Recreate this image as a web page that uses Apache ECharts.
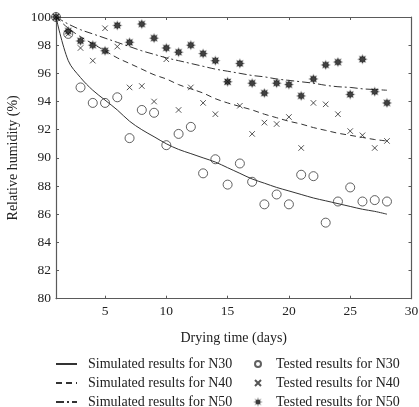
<!DOCTYPE html>
<html>
<head>
<meta charset="utf-8">
<script src="https://cdn.jsdelivr.net/npm/echarts@6/dist/echarts.min.js"></script>
<style>
  html, body { margin: 0; padding: 0; background: #fff; }
  #chart { width: 419px; height: 407px; }
</style>
</head>
<body>
<div id="chart"></div>
<script>
// Drying days
const days = [1, 2, 3, 4, 5, 6, 7, 8, 9, 10, 11, 12, 13, 14, 15, 16, 17, 18, 19, 20, 21, 22, 23, 24, 25, 26, 27, 28];
const xTickValues = [5, 10, 15, 20, 25, 30];

// Simulated relative humidity (%)
const simN30 = [100, 96.9, 95.7, 94.8, 94.1, 93.4, 92.6, 92.0, 91.5, 91.0, 90.6, 90.3, 90.0, 89.7, 89.3, 88.9, 88.5, 88.2, 87.9, 87.65, 87.4, 87.15, 86.95, 86.75, 86.55, 86.35, 86.2, 86.0];
const simN40 = [100, 99.2, 98.6, 98.1, 97.6, 97.1, 96.7, 96.3, 95.9, 95.6, 95.2, 94.9, 94.6, 94.2, 93.9, 93.65, 93.4, 93.1, 92.85, 92.6, 92.4, 92.15, 91.95, 91.75, 91.6, 91.45, 91.3, 91.2];
const simN50 = [100, 99.5, 99.1, 98.8, 98.5, 98.2, 97.9, 97.6, 97.35, 97.1, 96.9, 96.7, 96.5, 96.3, 96.15, 96.0, 95.85, 95.75, 95.6, 95.5, 95.4, 95.3, 95.15, 95.05, 95.0, 94.9, 94.85, 94.8];

// Tested relative humidity (%)
const testN30 = [100, 98.8, 95.0, 93.9, 93.9, 94.3, 91.4, 93.4, 93.2, 90.9, 91.7, 92.2, 88.9, 89.9, 88.1, 89.6, 88.3, 86.7, 87.4, 86.7, 88.8, 88.7, 85.4, 86.9, 87.9, 86.9, 87.0, 86.9];
const testN40 = [100, 98.8, 97.8, 96.9, 99.2, 97.9, 95.0, 95.1, 94.0, 97.0, 93.4, 95.0, 93.9, 93.1, 95.4, 93.7, 91.7, 92.5, 92.4, 92.9, 90.7, 93.9, 93.8, 93.1, 91.9, 91.6, 90.7, 91.2];
const testN50 = [100, 99.0, 98.3, 98.0, 97.6, 99.4, 98.2, 99.5, 98.5, 97.8, 97.5, 98.0, 97.4, 96.9, 95.4, 96.7, 95.3, 94.6, 95.3, 95.2, 94.4, 95.6, 96.6, 96.8, 94.5, 97.0, 94.7, 93.9];

const simNames = ['Simulated results for N30', 'Simulated results for N40', 'Simulated results for N50'];
const testNames = ['Tested results for N30', 'Tested results for N40', 'Tested results for N50'];

const FONT = '"Liberation Serif", "DejaVu Serif", serif';
const INK = '#222';
const AXIS = '#5a5a5a';
const LINE = '#333';

// eight-spoked star marker
function starPath(points, rOut, rIn) {
  let d = '';
  for (let k = 0; k < points * 2; k++) {
    const r = k % 2 === 0 ? rOut : rIn;
    const a = Math.PI * k / points - Math.PI / 2;
    const x = (10 + r * Math.cos(a)).toFixed(2);
    const y = (10 + r * Math.sin(a)).toFixed(2);
    d += (k === 0 ? 'M' : 'L') + x + ',' + y;
  }
  return 'path://' + d + 'Z';
}
const crossPath = 'path://M0,0L10,10M10,0L0,10';

const pairs = (vals) => days.map((d, i) => [d, vals[i]]);

function simSeries(name, vals, type) {
  return {
    name, type: 'line', data: pairs(vals), symbol: 'none', smooth: 0.35,
    color: LINE,
    lineStyle: { color: LINE, width: 1, type },
    itemStyle: { color: LINE },
    z: 2, silent: true
  };
}

// one legend entry per row/column slot
const legendText = { fontFamily: FONT, fontSize: 14, color: INK, lineHeight: 16 };
const rowTops = [351, 370, 389];
const legends = [];
simNames.forEach((n, i) => legends.push({
  data: [n], left: 50, top: rowTops[i], itemWidth: 21, itemHeight: 10,
  itemStyle: { opacity: 0 },
  textStyle: Object.assign({ padding: [0, 0, 0, 6] }, legendText),
  selectedMode: false
}));
testNames.forEach((n, i) => legends.push({
  data: [n], left: 249, top: rowTops[i], itemWidth: 6, itemHeight: 6,
  textStyle: Object.assign({ padding: [0, 0, 0, 10] }, legendText),
  selectedMode: false
}));

const chart = echarts.init(document.getElementById('chart'), null, { renderer: 'canvas' });

const baseAxis = {
  axisLine: { show: true, onZero: false, lineStyle: { color: AXIS, width: 1.2 } },
  axisTick: { show: true, inside: true, length: 3, lineStyle: { color: AXIS } },
  splitLine: { show: false }
};

chart.setOption({
  animation: false,
  backgroundColor: '#fff',
  grid: { left: 56, right: 7.5, top: 17, bottom: 108.3, containLabel: false, outerBoundsMode: 'none' },
  xAxis: [
    Object.assign({}, baseAxis, {
      type: 'value', min: 1, max: 30, position: 'bottom',
      name: 'Drying time (days)', nameLocation: 'middle', nameGap: 33,
      nameTextStyle: { fontFamily: FONT, fontSize: 14, color: INK },
      axisTick: Object.assign({}, baseAxis.axisTick, { customValues: xTickValues }),
      axisLabel: { customValues: xTickValues, fontFamily: FONT, fontSize: 13.5, color: INK, margin: 6 }
    }),
    Object.assign({}, baseAxis, {
      type: 'value', min: 1, max: 30, position: 'top',
      axisTick: Object.assign({}, baseAxis.axisTick, { customValues: xTickValues }),
      axisLabel: { show: false }
    })
  ],
  yAxis: [
    Object.assign({}, baseAxis, {
      type: 'value', min: 80, max: 100, interval: 2, position: 'left',
      name: 'Relative humidity (%)', nameLocation: 'middle', nameGap: 34,
      nameTextStyle: { fontFamily: FONT, fontSize: 14, color: INK },
      axisLabel: { fontFamily: FONT, fontSize: 13.5, color: INK, margin: 5 }
    }),
    Object.assign({}, baseAxis, {
      type: 'value', min: 80, max: 100, interval: 2, position: 'right',
      axisLabel: { show: false }
    })
  ],
  legend: legends,
  series: [
    simSeries(simNames[0], simN30, 'solid'),
    simSeries(simNames[1], simN40, [6, 4]),
    simSeries(simNames[2], simN50, [8, 3, 2, 3]),
    {
      name: testNames[0], type: 'scatter', data: pairs(testN30),
      symbol: 'circle', symbolSize: 9,
      itemStyle: { color: 'rgba(0,0,0,0)', borderColor: '#3a3a3a', borderWidth: 1 },
      z: 3, silent: true
    },
    {
      name: testNames[1], type: 'scatter', data: pairs(testN40),
      symbol: crossPath, symbolSize: 5.5,
      itemStyle: { color: 'rgba(0,0,0,0)', borderColor: '#2a2a2a', borderWidth: 1 },
      z: 4, silent: true
    },
    {
      name: testNames[2], type: 'scatter', data: pairs(testN50),
      symbol: starPath(8, 10, 6.5), symbolSize: 8,
      itemStyle: { color: '#111', borderColor: 'rgba(0,0,0,0.3)', borderWidth: 1.5 },
      z: 5, silent: true
    }
  ]
});
</script>
</body>
</html>
